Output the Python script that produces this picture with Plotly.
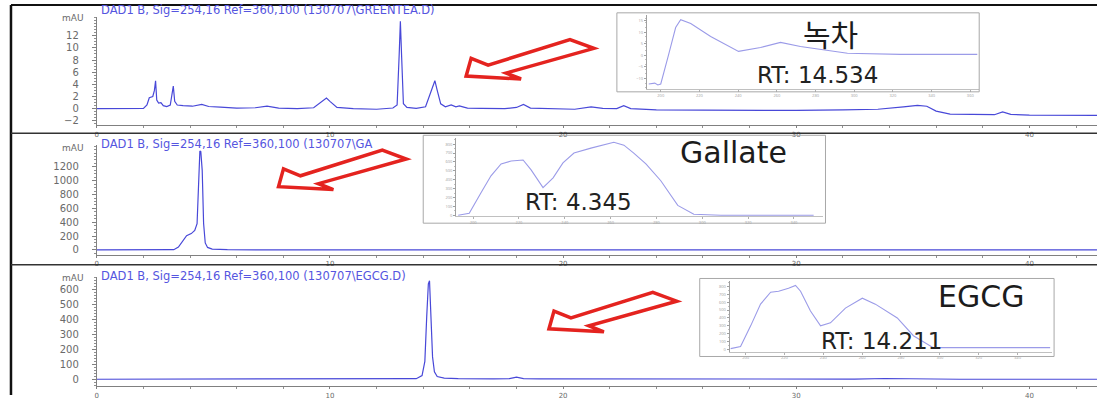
import plotly.graph_objects as go

W, H = 1097, 400

# ---------------- data ----------------
# Chromatogram 1 : green tea (mAU vs min)
tea_t = [0, 1.0, 2.0, 2.15, 2.25, 2.4, 2.47, 2.52, 2.57, 2.65, 2.75, 2.85, 3.0, 3.15, 3.22,
         3.28, 3.34, 3.45, 3.7, 4.1, 4.5, 4.8, 5.3, 6.0, 6.8, 7.3, 7.8, 8.6, 9.3, 9.7,
         9.85, 10.0, 10.3, 11.0, 12.0, 12.7, 12.88, 12.97, 13.02, 13.07, 13.15, 13.3, 13.7, 14.1, 14.35,
         14.5, 14.6, 14.75, 14.95, 15.2, 15.4, 15.55, 15.7, 15.9, 16.5, 17.5, 18.0, 18.3, 18.6, 19.5,
         20.5, 21.2, 21.7, 22.3, 22.6, 22.9, 24.0, 26.0, 28.0, 30.0, 32.0, 33.5, 34.6, 35.2, 35.6,
         36.0, 36.6, 37.5, 38.5, 38.85, 39.2, 40.0, 41.5, 42.9]
tea_mau = [0, 0, 0.05, 0.6, 1.8, 2.0, 3.0, 4.6, 1.4, 0.9, 1.0, 0.5, 0.35, 0.6, 2.0,
           3.7, 1.2, 0.6, 0.5, 0.4, 0.7, 0.35, 0.25, 0.1, 0.15, 0.4, 0.1, 0.0, 0.15, 1.3,
           1.75, 1.2, 0.2, 0.0, -0.1, 0.1, 0.6, 9.0, 14.4, 9.0, 0.8, 0.2, 0.05, 0.3, 3.0,
           4.6, 3.0, 0.8, 0.3, 0.6, 0.3, 0.45, 0.3, 0.1, 0.05, 0.0, 0.2, 0.7, 0.1, 0.0,
           -0.1, 0.3, 0.05, 0.0, 0.5, 0.0, -0.2, -0.25, -0.3, -0.3, -0.2, -0.1, 0.3, 0.55, 0.4,
           -0.4, -0.9, -1.0, -1.0, -0.55, -0.95, -1.05, -1.1, -1.1]

# Chromatogram 2 : gallate standard
gal_t = [0, 2.0, 3.3, 3.5, 3.65, 3.85, 4.05, 4.2, 4.3, 4.36, 4.42, 4.46, 4.52, 4.58, 4.65,
         4.75, 4.95, 5.6, 7.0, 20.0, 42.9]
gal_mau = [0, 0, 2, 40, 115, 205, 235, 280, 380, 900, 1430, 1420, 1150, 380, 100,
           35, 12, 3, 0, 0, 0]

# Chromatogram 3 : EGCG standard
egcg_t = [0, 2.0, 2.5, 3.0, 3.5, 5.0, 7.0, 7.5, 8.5, 9.3, 11.0, 13.0, 13.7, 13.95, 14.07,
          14.15, 14.22, 14.27, 14.33, 14.4, 14.48, 14.6, 14.9, 15.5, 17.0, 17.7, 18.0, 18.3, 19.0,
          21.0, 22.5, 22.8, 24, 30, 32.5, 33.8, 35.3, 37, 42.9]
egcg_mau = [0, 0, 3, 2, 0, 0, 0, 4, 3, 0, 0, 1, 4, 25, 120,
            420, 640, 660, 450, 150, 50, 18, 8, 4, 3, 4, 14, 4, 3,
            2, 4, 2, 1, 0, 1, 5, 1, 0, 0]

# UV spectra in the insets (nm vs mAU)
tea_wl = [193.8, 196.9, 198.5, 200.0, 204.1, 207.7, 210.3, 215.5, 225.8, 240.2, 251.6, 261.9,
          272.2, 296.5, 323.8, 363.6]
tea_abs = [-12.4, -12.0, -12.8, -12.4, 0.4, 12.0, 15.4, 13.7, 8.1, 1.7, 3.4, 5.6,
           3.8, 0.9, 0.4, 0.4]
gal_wl = [193.5, 198.3, 203.5, 207.8, 212.2, 216.6, 221.8, 225.3, 230.5, 234.9, 239.2, 244.0,
          251.4, 261.4, 265.8, 270.1, 275.4, 281.9, 289.3, 296.3, 308.1, 348.6]
gal_abs = [0, 22, 256, 444, 578, 611, 622, 511, 311, 422, 589, 700,
           756, 822, 789, 700, 578, 389, 111, 11, 0, 0]
egcg_wl = [192.3, 197.4, 202.6, 207.7, 212.9, 217.0, 222.1, 225.7, 228.3, 233.4, 238.6, 243.7,
           251.4, 260.1, 266.8, 278.1, 286.4, 296.6, 356.8]
egcg_abs = [12, 38, 300, 575, 725, 738, 775, 812, 738, 488, 300, 338,
            525, 650, 575, 400, 175, 25, 25]

titles = ["DAD1 B, Sig=254,16 Ref=360,100 (130707\\GREENTEA.D)",
          "DAD1 B, Sig=254,16 Ref=360,100 (130707\\GA",
          "DAD1 B, Sig=254,16 Ref=360,100 (130707\\EGCG.D)"]
names = ["녹차", "Gallate", "EGCG"]
rts = ["RT: 14.534", "RT: 4.345", "RT: 14.211"]
y_ticks = [[-2, 0, 2, 4, 6, 8, 10, 12], [0, 200, 400, 600, 800, 1000, 1200],
           [0, 100, 200, 300, 400, 500, 600]]
x_ticks = [0, 10, 20, 30, 40]

# ---------------- helpers ----------------
def px(x):
    return x / W

def py(y):
    return 1 - y / H

fig = go.Figure()

LINE = "#4848d8"
SPEC = "#9b9be8"
GRAY = "#6a6a6a"

panels = [
    dict(top=17, bot=127, yr=[-2.76, 15.12], minor=0.5),
    dict(top=147, bot=258, yr=[-71, 1514], minor=50),
    dict(top=280, bot=391, yr=[-46, 689], minor=20),
]
series = [(tea_t, tea_mau), (gal_t, gal_mau), (egcg_t, egcg_mau)]

for i, (p, (t, v)) in enumerate(zip(panels, series)):
    n = i + 1
    xa = "x" if n == 1 else f"x{n}"
    ya = "y" if n == 1 else f"y{n}"
    fig.add_trace(go.Scatter(x=t, y=v, mode="lines", xaxis=xa, yaxis=ya,
                             line=dict(color=LINE, width=1.2), showlegend=False,
                             hoverinfo="skip"))
    xk = "xaxis" if n == 1 else f"xaxis{n}"
    yk = "yaxis" if n == 1 else f"yaxis{n}"
    fig.layout[xk] = dict(domain=[px(95), 1], range=[0, 42.9], anchor=ya,
                          showline=True, linecolor="#808080", linewidth=1,
                          ticks="outside", ticklen=2, tickcolor="#808080",
                          tickmode="array", tickvals=x_ticks,
                          tickfont=dict(size=7, color=GRAY, family="DejaVu Sans"),
                          minor=dict(dtick=2, tick0=0, ticks="outside", ticklen=2,
                                     tickcolor="#909090"),
                          showgrid=False, zeroline=False, fixedrange=True,
                          ticklabelstandoff=0)
    fig.layout[yk] = dict(domain=[py(p["bot"]), py(p["top"])], range=p["yr"], anchor=xa,
                          showline=True, linecolor="#808080", linewidth=1,
                          ticks="outside", ticklen=4, tickcolor="#808080",
                          tickmode="array", tickvals=y_ticks[i],
                          tickfont=dict(size=10, color=GRAY, family="DejaVu Sans"),
                          minor=dict(dtick=p["minor"], ticks="outside", ticklen=2,
                                     tickcolor="#909090"),
                          showgrid=False, zeroline=False, fixedrange=True,
                          ticklabelstandoff=11)

insets = [
    dict(frame=(616, 13, 979, 93), dom=(646, 15, 979, 90), xr=[192.8, 364.6], yr=[-14.5, 17.5],
         yt=[-15, -10, -5, 0, 5, 10, 15], wl=tea_wl, ab=tea_abs),
    dict(frame=(422, 137, 825, 226), dom=(455, 140, 823, 219), xr=[192.6, 352.9], yr=[-11, 867],
         yt=[0, 100, 200, 300, 400, 500, 600, 700, 800], wl=gal_wl, ab=gal_abs),
    dict(frame=(699, 282, 1054, 361), dom=(729, 285, 1052, 356), xr=[191.8, 357.8], yr=[-25, 862],
         yt=[0, 100, 200, 300, 400, 500, 600, 700, 800], wl=egcg_wl, ab=egcg_abs),
]
shapes = []
for j, ins in enumerate(insets):
    n = 4 + j
    x0, y0, x1, y1 = ins["dom"]
    fig.add_trace(go.Scatter(x=ins["wl"], y=ins["ab"], mode="lines", xaxis=f"x{n}", yaxis=f"y{n}",
                             line=dict(color=SPEC, width=1.1), showlegend=False, hoverinfo="skip"))
    fig.layout[f"xaxis{n}"] = dict(domain=[px(x0), px(x1)], range=ins["xr"], anchor=f"y{n}",
                                   showline=True, linecolor="#c0c0c0", ticks="outside", ticklen=2,
                                   tickcolor="#b0b0b0", dtick=20, tick0=200,
                                   tickfont=dict(size=4, color="#a0a0a0"), ticklabelstandoff=0,
                                   showgrid=False, zeroline=False, fixedrange=True)
    fig.layout[f"yaxis{n}"] = dict(domain=[py(y1), py(y0)], range=ins["yr"], anchor=f"x{n}",
                                   showline=True, linecolor="#a0a0a0", ticks="outside", ticklen=2,
                                   tickcolor="#a0a0a0", tickmode="array", tickvals=ins["yt"],
                                   tickfont=dict(size=4, color="#a0a0a0"),
                                   minor=dict(ticks="outside", ticklen=1, tickcolor="#c0c0c0",
                                              nticks=5),
                                   showgrid=False, zeroline=False, fixedrange=True)
    fx0, fy0, fx1, fy1 = ins["frame"]
    shapes.append(dict(type="rect", xref="paper", yref="paper", x0=px(fx0), x1=px(fx1),
                       y0=py(fy1), y1=py(fy0), line=dict(color="#a8a8a8", width=1), layer="above"))

shapes.append(dict(type="line", xref="paper", yref="paper", x0=px(9), x1=1, y0=py(5), y1=py(5),
                   line=dict(color="#111", width=2)))
shapes.append(dict(type="line", xref="paper", yref="paper", x0=px(9), x1=px(9), y0=py(5), y1=0,
                   line=dict(color="#111", width=2.5)))
for ysep in (135, 268):
    shapes.append(dict(type="line", xref="paper", yref="paper", x0=px(9), x1=1,
                       y0=py(ysep), y1=py(ysep), line=dict(color="#333", width=1.5)))

# hollow red arrows (outline relative to the tip, px)
arrow_tpl = [(0, 0), (5, -18), (22, -11), (104, -37), (128, -28), (40, -3), (55, 3)]
arrow_tips = [(465, 77), (277, 189), (548, 333)]
for tx, ty in arrow_tips:
    pts = [(px(tx + dx), py(ty + dy)) for dx, dy in arrow_tpl]
    path = "M " + " L ".join(f"{a:.5f},{b:.5f}" for a, b in pts) + " Z"
    shapes.append(dict(type="path", xref="paper", yref="paper", path=path,
                       line=dict(color="#e4231f", width=3.5), fillcolor="rgba(255,255,255,0)",
                       layer="above"))

annotations = []
title_y = [10, 146, 279]
mau_y = [18, 150, 282]
for i in range(3):
    annotations.append(dict(xref="paper", yref="paper", x=px(97), y=py(title_y[i]),
                            xanchor="left", yanchor="middle", showarrow=False, text=titles[i],
                            font=dict(size=11.5, color="#5555e0", family="DejaVu Sans")))
    annotations.append(dict(xref="paper", yref="paper", x=px(84), y=py(mau_y[i]),
                            xanchor="right", yanchor="middle", showarrow=False, text="mAU",
                            font=dict(size=9, color=GRAY, family="DejaVu Sans")))

name_pos = [(830, 33), (733, 154), (981, 300)]
rt_pos = [(817, 76), (578, 205), (881, 345)]
for i in range(3):
    fam = "Noto Sans CJK KR" if i == 0 else "DejaVu Sans"
    annotations.append(dict(xref="paper", yref="paper", x=px(name_pos[i][0]), y=py(name_pos[i][1]),
                            xanchor="center", yanchor="middle", showarrow=False, text=names[i],
                            font=dict(size=30, color="#1c1c1c", family=fam)))
    annotations.append(dict(xref="paper", yref="paper", x=px(rt_pos[i][0]), y=py(rt_pos[i][1]),
                            xanchor="center", yanchor="middle", showarrow=False, text=rts[i],
                            font=dict(size=23, color="#222", family="DejaVu Sans")))

fig.update_layout(width=W, height=H, margin=dict(l=0, r=0, t=0, b=0),
                  paper_bgcolor="white", plot_bgcolor="rgba(0,0,0,0)",
                  shapes=shapes, annotations=annotations, showlegend=False)

fig.write_html("out.html")
